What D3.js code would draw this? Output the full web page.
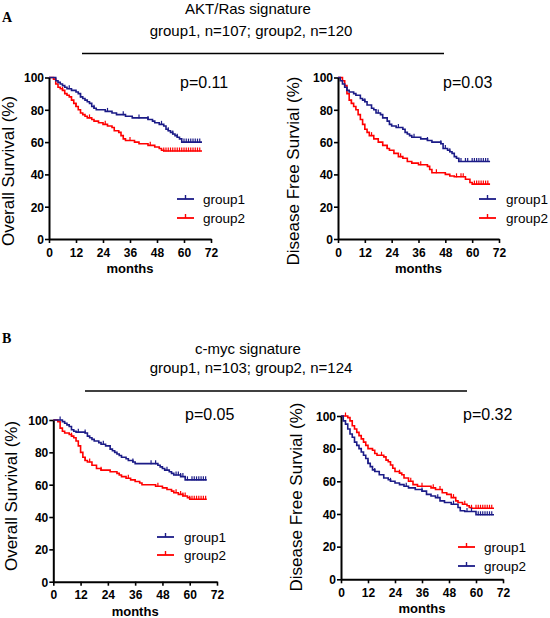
<!DOCTYPE html>
<html>
<head>
<meta charset="utf-8">
<script src="https://cdn.jsdelivr.net/npm/d3@7"></script>
<style>
  html, body { margin: 0; padding: 0; background: #fff; }
  svg { display: block; }
  text { font-family: "Liberation Sans", Arial, sans-serif; fill: #000; }
  text.panel-label { font-family: "Liberation Serif", "Times New Roman", serif; font-weight: bold; }
</style>
</head>
<body>
<svg id="chart" width="550" height="618"></svg>
<script>
// ---------- DATA (Kaplan-Meier step points: [month, survival %]) ----------
const xTicks = [0, 12, 24, 36, 48, 60, 72];
const yTicks = [0, 20, 40, 60, 80, 100];

// Panel A: AKT/Ras signature
const aktOsGroup1 = [[0,100],[2,100],[3,98],[4,97],[5,96],[6,95],[7,94],[8,93],[10,92],[12,91],[13,90],[14,88],[15,87],[16,86],[17,85],[18,84],[19,82],[20,81],[21,80],[25,79],[28,78],[30,77],[34,76],[37,75],[44,74],[46,73],[47,72],[49,71],[51,70],[52,68],[53,67],[54,66],[55,65],[56,64],[57,63],[58,62],[59,60],[68,60]];
const aktOsGroup2 = [[0,100],[2,99],[3,96],[4,94],[5,93],[6,92],[7,90],[8,89],[9,88],[10,86],[11,84],[12,82],[13,80],[14,78],[15,77],[16,76],[17,75],[19,74],[20,73],[22,72],[24,71],[26,70],[28,69],[29,67],[31,66],[32,64],[33,62],[34,61],[38,60],[40,59],[44,58],[47,57],[49,56],[50,55],[51,54.5],[68,54.5]];
const aktDfsGroup1 = [[0,100],[1,98],[2,96],[3,94],[4,92],[5,91],[7,90],[8,89],[10,87],[11,86],[12,85],[13,83],[15,81],[16,80],[17,78],[19,77],[20,75],[22,73],[23,71],[24,70],[26,69],[29,68],[30,66],[31,65],[32,64],[33,63],[37,62],[40,61],[42,60],[46,59],[47,56],[49,55],[50,54],[51,53],[52,51],[53,50],[54,48],[68,48]];
const aktDfsGroup2 = [[0,100],[2,98],[3,95],[4,90],[5,86],[6,84],[7,82],[8,80],[9,77],[10,74],[11,71],[12,68],[13,66],[14,64],[16,62],[18,60],[20,58],[22,56],[23,55],[25,53],[27,51],[29,50],[31,48],[33,47],[36,46],[40,45],[41,43],[42,41],[48,40],[50,39],[52,38.5],[57,37],[59,35],[60,34],[68,34]];

// Panel B: c-myc signature
const mycOsGroup1 = [[0,100],[2,100],[4,99],[5,98],[6,97],[7,96],[8,94],[9,93],[10,92.5],[14,92],[15,90],[16,89],[17,88],[18,87],[20,86],[21,85],[23,84],[25,82],[26,81],[27,80],[28,79],[29,78],[30,77],[32,76],[33,75],[35,74],[36,73],[46,72],[47,71],[48,70],[49,69],[51,68],[52,67],[53,66],[56,65],[58,63],[67.5,63]];
const mycOsGroup2 = [[0,100],[2,99],[3,95],[4,93],[5,92],[7,91],[8,90],[9,89],[10,87],[11,84],[12,80],[13,77],[14,75],[15,74],[17,72],[19,70],[21,69],[25,68],[28,67],[29,66],[30,65],[32,64],[34,63],[36,62],[38,61],[39,60],[45,59],[48,58],[50,57],[52,56],[53,55],[55,54],[57,53],[59,52],[60,51],[67.5,51]];
const mycDfsGroup1 = [[0,100],[3,99],[4,97],[5,94],[6,92],[7,90],[8,88],[9,86],[10,84],[11,82],[12,80],[14,79],[15,77],[16,76],[19,75],[20,73],[21,72],[22,70],[23,68],[24,66],[26,65],[27,64],[28,62],[30,60],[32,58],[34,57],[40,56],[42,55],[45,53],[47,52],[49,50],[51,48],[52,47],[54,46],[56,45],[57,44],[58,43.5],[68,43.5]];
const mycDfsGroup2 = [[0,100],[1,97],[2,95],[3,92],[4,89],[5,87],[6,84],[7,82],[8,80],[9,78],[10,76],[11,74],[12,71],[13,69],[14,67],[15,66],[17,64],[19,62],[21,61],[22,60],[24,59],[26,58],[28,57],[30,56],[33,55],[36,54],[38,52],[40,51],[42,50],[44,48],[46,47],[49,46],[52,44],[53,42],[55,41.5],[60,39.5],[68,39.5]];

// censored times (months)
const aktOsCens1 = [9,14,20,26,33,40,44,50,53,55,57,60,61,62,63,64,65,66,67];
const aktOsCens2 = [6,12,18,25,36,45,51,52,53,54,55,56,57,58,59,60,61,62,63,64,65,66,67];
const aktDfsCens1 = [4,12,18,27,34,40,46,48,50,54,55,57,58,60,61,62,63,64,65,66,67];
const aktDfsCens2 = [6,15,22,28,37,44,53,55,56,61,62,63,64,65,66,67];
const mycOsCens1 = [3,11,14,22,35,43,45,50,54,55,56,57,59,61,62,63,64,65,66,67];
const mycOsCens2 = [8,14,16,21,33,46,54,56,57,58,60,61,62,63,64,65,66,67];
const mycDfsCens1 = [2,18,26,31,36,41,44,50,55,58,60,61,62,63,64,65,66,67];
const mycDfsCens2 = [12,15,22,29,36,43,50,56,58,61,62,63,64,65,66,67];

const titleA = "AKT/Ras signature";
const subtitleA = "group1, n=107; group2, n=120";
const titleB = "c-myc signature";
const subtitleB = "group1, n=103; group2, n=124";
const pValues = ["p=0.11", "p=0.03", "p=0.05", "p=0.32"];
const yLabels = ["Overall Survival (%)", "Disease Free Survial (%)", "Overall Survival (%)", "Disease Free Survial (%)"];
const xLabel = "months";

// ---------- STYLE / LAYOUT ----------
const BLUE = "#1b1b87", RED = "#ff0000";
const svg = d3.select("#chart");

const panels = [
  {x0:49, x1:211, y0:239, y1:77.5, yl:14, ylc:171, px:180, py:88,
   series:[{d:aktOsGroup1,c:aktOsCens1,col:BLUE,name:"group1"},{d:aktOsGroup2,c:aktOsCens2,col:RED,name:"group2"}],
   lx:177, lt:203, ly:[199,218], p:pValues[0], ylab:yLabels[0]},
  {x0:338, x1:499, y0:239, y1:77.5, yl:299, ylc:171, px:443, py:88,
   series:[{d:aktDfsGroup1,c:aktDfsCens1,col:BLUE,name:"group1"},{d:aktDfsGroup2,c:aktDfsCens2,col:RED,name:"group2"}],
   lx:479, lt:506, ly:[199,218], p:pValues[1], ylab:yLabels[1]},
  {x0:53.3, x1:217, y0:581.7, y1:420, yl:17, ylc:496, px:185, py:420,
   series:[{d:mycOsGroup1,c:mycOsCens1,col:BLUE,name:"group1"},{d:mycOsGroup2,c:mycOsCens2,col:RED,name:"group2"}],
   lx:157, lt:184, ly:[537,555], p:pValues[2], ylab:yLabels[2]},
  {x0:341, x1:503, y0:579.3, y1:416, yl:302, ylc:497, px:463, py:420,
   series:[{d:mycDfsGroup1,c:mycDfsCens1,col:RED,name:"group1"},{d:mycDfsGroup2,c:mycDfsCens2,col:BLUE,name:"group2"}],
   lx:458, lt:484, ly:[547,566], p:pValues[3], ylab:yLabels[3]}
];

function survAt(data, t) {
  let s = data[0][1];
  for (const [tt, v] of data) { if (tt <= t) s = v; else break; }
  return s;
}

panels.forEach(P => {
  const x = d3.scaleLinear().domain([0, 72]).range([P.x0, P.x1]);
  const y = d3.scaleLinear().domain([0, 100]).range([P.y0, P.y1]);
  const g = svg.append("g");

  const line = d3.line().x(d => x(d[0])).y(d => y(d[1])).curve(d3.curveStepAfter);
  const order = P.series.slice().sort((a,b) => (a.col === RED ? 0 : 1) - (b.col === RED ? 0 : 1));
  order.forEach(s => {
    g.append("path").datum(s.d).attr("d", line)
      .attr("fill", "none").attr("stroke", s.col).attr("stroke-width", 1.6);
    g.selectAll(null).data(s.c).enter().append("line")
      .attr("x1", t => x(t)).attr("x2", t => x(t))
      .attr("y1", t => y(survAt(s.d, t)) - 3.5).attr("y2", t => y(survAt(s.d, t)) + 0.5)
      .attr("stroke", s.col).attr("stroke-width", 1.2);
  });

  const ax = g.append("g").attr("transform", `translate(0,${P.y0})`)
    .call(d3.axisBottom(x).tickValues(xTicks).tickSize(4).tickSizeOuter(0).tickPadding(5));
  const ay = g.append("g").attr("transform", `translate(${P.x0},0)`)
    .call(d3.axisLeft(y).tickValues(yTicks).tickSize(4).tickSizeOuter(0).tickPadding(1));
  [ax, ay].forEach(a => {
    a.select(".domain").attr("stroke", "#000").attr("stroke-width", 2);
    a.selectAll(".tick line").attr("stroke", "#000").attr("stroke-width", 1.6);
    a.selectAll(".tick text").attr("font-size", 12).attr("font-weight", "bold");
  });
  ay.selectAll(".tick text").attr("dy", "0.36em");

  g.append("text").attr("x", (P.x0 + P.x1) / 2).attr("y", P.y0 + 34)
    .attr("text-anchor", "middle").attr("font-size", 13).attr("font-weight", "bold").text(xLabel);
  g.append("text").attr("transform", `translate(${P.yl},${P.ylc}) rotate(-90)`)
    .attr("text-anchor", "middle").attr("font-size", 17).text(P.ylab);

  g.append("text").attr("x", P.px).attr("y", P.py).attr("font-size", 16).text(P.p);

  P.series.forEach((s, i) => {
    const ly = P.ly[i];
    g.append("line").attr("x1", P.lx).attr("x2", P.lx + 17).attr("y1", ly).attr("y2", ly)
      .attr("stroke", s.col).attr("stroke-width", 1.8);
    g.append("line").attr("x1", P.lx + 8.5).attr("x2", P.lx + 8.5).attr("y1", ly - 4).attr("y2", ly)
      .attr("stroke", s.col).attr("stroke-width", 1.4);
    g.append("text").attr("x", P.lt).attr("y", ly + 5).attr("font-size", 13.5).text(s.name);
  });
});

function header(label, lx, ly, t1, y1, t2, y2, lineY, lineX0, lineX1) {
  svg.append("text").attr("class", "panel-label").attr("x", lx).attr("y", ly)
    .attr("font-size", 14).text(label);
  svg.append("text").attr("x", 248).attr("y", y1).attr("text-anchor", "middle").attr("font-size", 15).text(t1);
  svg.append("text").attr("x", 251).attr("y", y2).attr("text-anchor", "middle").attr("font-size", 15).text(t2);
  svg.append("line").attr("x1", lineX0).attr("x2", lineX1).attr("y1", lineY).attr("y2", lineY)
    .attr("stroke", "#000").attr("stroke-width", 1.3);
}
header("A", 2, 22, titleA, 14, subtitleA, 36, 53.5, 82, 444);
header("B", 2, 343, titleB, 354, subtitleB, 372.5, 391, 85, 467);
</script>
</body>
</html>
